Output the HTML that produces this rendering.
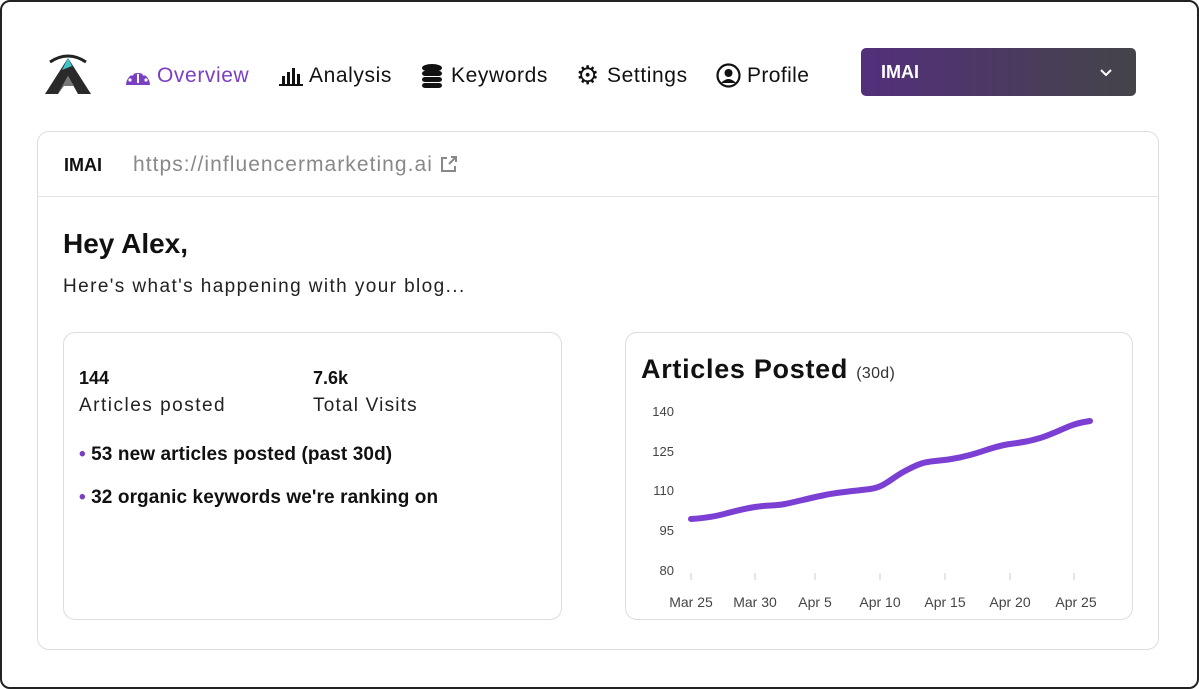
<!DOCTYPE html>
<html><head><meta charset="utf-8"><style>
*{margin:0;padding:0;box-sizing:border-box}
body{width:1199px;height:689px;background:#fff;font-family:"Liberation Sans",sans-serif;position:relative;overflow:hidden;color:#111}
.frame{position:absolute;left:0;top:0;width:1199px;height:689px;border:2px solid #222;border-radius:10px}
.a{position:absolute;white-space:nowrap}
.nav{font-size:21px;top:64px;letter-spacing:0.6px}
.card{position:absolute;border:1px solid #ddd;border-radius:12px}
</style></head><body>
<div class="frame"></div>
<svg class="a" style="left:42px;top:52px" width="52" height="44" viewBox="0 0 52 44">
<path d="M8 10 Q26 -2 44 10" stroke="#222" stroke-width="3" fill="none"/>
<polygon points="26,6 3,42 16,42 26,24 36,42 49,42" fill="#2a2a2a"/>
<polygon points="26,6 20,18 30,14" fill="#3bc4c9"/>
<polygon points="16,42 26,24 32,34 22,34" fill="#777"/>
</svg>
<svg class="a" style="left:125px;top:65px" width="26" height="22" viewBox="0 0 26 22"><path d="M1 20 A12 12 0 1 1 25 20 Z" fill="#7a3fc2"/><circle cx="13" cy="6" r="1.6" fill="#fff"/><circle cx="7" cy="9" r="1.6" fill="#fff"/><circle cx="19" cy="9" r="1.6" fill="#fff"/><circle cx="5" cy="15" r="1.6" fill="#fff"/><circle cx="21" cy="15" r="1.6" fill="#fff"/><rect x="12" y="9" width="2" height="9" fill="#fff"/></svg>
<div class="a nav" style="left:157px;color:#7a3fc2">Overview</div>
<svg class="a" style="left:278px;top:65px" width="26" height="22"><rect x="1" y="19" width="24" height="2" fill="#111"/><rect x="4" y="11" width="3" height="8" fill="#111"/><rect x="9" y="7" width="3" height="12" fill="#111"/><rect x="14" y="3" width="3" height="16" fill="#111"/><rect x="19" y="9" width="3" height="10" fill="#111"/></svg>
<div class="a nav" style="left:309px">Analysis</div>
<svg class="a" style="left:421px;top:63px" width="22" height="26"><ellipse cx="11" cy="5" rx="10" ry="4" fill="#111"/><rect x="1" y="8" width="20" height="5" rx="3" fill="#111"/><rect x="1" y="14" width="20" height="5" rx="3" fill="#111"/><rect x="1" y="20" width="20" height="5" rx="3" fill="#111"/></svg>
<div class="a nav" style="left:451px">Keywords</div>
<div class="a" style="left:576px;top:60px;font-size:26px;color:#111">⚙</div>
<div class="a nav" style="left:607px">Settings</div>
<svg class="a" style="left:716px;top:63px" width="25" height="25"><circle cx="12.5" cy="12.5" r="11" fill="none" stroke="#111" stroke-width="2.2"/><circle cx="12.5" cy="10" r="4" fill="#111"/><path d="M5 20 Q12.5 12 20 20" fill="#111"/></svg>
<div class="a nav" style="left:747px;letter-spacing:0.4px">Profile</div>
<div class="a" style="left:861px;top:48px;width:275px;height:48px;border-radius:5px;background:linear-gradient(90deg,#532f7c,#444448)"></div>
<div class="a" style="left:881px;top:62px;font-size:18px;font-weight:bold;color:#fff">IMAI</div>
<svg class="a" style="left:1099px;top:68px" width="14" height="10"><path d="M2 2 L7 7 L12 2" stroke="#fff" stroke-width="2" fill="none"/></svg>

<div class="card" style="left:37px;top:131px;width:1122px;height:519px"></div>
<div class="a" style="left:37px;top:196px;width:1122px;height:1px;background:#e4e4e4"></div>
<div class="a" style="left:64px;top:155px;font-size:18px;font-weight:bold">IMAI</div>
<div class="a" style="left:133px;top:153px;font-size:21px;color:#888;letter-spacing:1.05px">https://influencermarketing.ai</div>
<svg class="a" style="left:439px;top:154px" width="20" height="20"><path d="M8 4 H3 V17 H16 V12" stroke="#888" stroke-width="2" fill="none"/><path d="M10 10 L17 3 M12 3 H17 V8" stroke="#888" stroke-width="2" fill="none"/></svg>
<div class="a" style="left:63px;top:228px;font-size:28px;font-weight:bold">Hey Alex,</div>
<div class="a" style="left:63px;top:276px;font-size:19px;color:#222;letter-spacing:1.4px">Here's what's happening with your blog...</div>

<div class="card" style="left:63px;top:332px;width:499px;height:288px"></div>
<div class="a" style="left:79px;top:368px;font-size:18px;font-weight:bold">144</div>
<div class="a" style="left:79px;top:395px;font-size:19px;color:#222;letter-spacing:1.5px">Articles posted</div>
<div class="a" style="left:313px;top:368px;font-size:18px;font-weight:bold">7.6k</div>
<div class="a" style="left:313px;top:395px;font-size:19px;color:#222;letter-spacing:1.2px">Total Visits</div>
<div class="a" style="left:79px;top:444px;font-size:19px;font-weight:bold;letter-spacing:0.1px"><span style="color:#7a3fc2">•</span> 53 new articles posted (past 30d)</div>
<div class="a" style="left:79px;top:487px;font-size:19px;font-weight:bold;letter-spacing:0.1px"><span style="color:#7a3fc2">•</span> 32 organic keywords we're ranking on</div>

<div class="card" style="left:625px;top:332px;width:508px;height:288px"></div>
<div class="a" style="left:641px;top:354px;font-size:27px;font-weight:bold;letter-spacing:0.7px">Articles Posted <span style="font-size:16px;font-weight:normal;color:#333;letter-spacing:0.3px">(30d)</span></div>
<svg class="a" style="left:625px;top:395px" width="508" height="225" viewBox="625 395 508 225" font-family="Liberation Sans,sans-serif" font-size="13" fill="#444">
<text x="674" y="416" text-anchor="end">140</text>
<text x="674" y="456" text-anchor="end">125</text>
<text x="674" y="495" text-anchor="end">110</text>
<text x="674" y="535" text-anchor="end">95</text>
<text x="674" y="575" text-anchor="end">80</text>
<g stroke="#ccc" stroke-width="1"><line x1="691" y1="573" x2="691" y2="580"/><line x1="755" y1="573" x2="755" y2="580"/><line x1="815" y1="573" x2="815" y2="580"/><line x1="880" y1="573" x2="880" y2="580"/><line x1="945" y1="573" x2="945" y2="580"/><line x1="1010" y1="573" x2="1010" y2="580"/><line x1="1074" y1="573" x2="1074" y2="580"/></g>
<g text-anchor="middle" font-size="14"><text x="691" y="607">Mar 25</text><text x="755" y="607">Mar 30</text><text x="815" y="607">Apr 5</text><text x="880" y="607">Apr 10</text><text x="945" y="607">Apr 15</text><text x="1010" y="607">Apr 20</text><text x="1076" y="607">Apr 25</text></g>
<path d="M691 519 C705 518 712 517 720 515 S742 509 755 507 S775 506 785 504 S810 498 825 495 S855 491 870 489 S890 479 905 471 S925 462 935 461 S955 459 970 455 S995 446 1010 444 S1030 441 1040 438 S1060 430 1070 426 S1085 422 1090 421" stroke="#7b3fd4" stroke-width="6" fill="none" stroke-linecap="round"/>
</svg>
</body></html>
